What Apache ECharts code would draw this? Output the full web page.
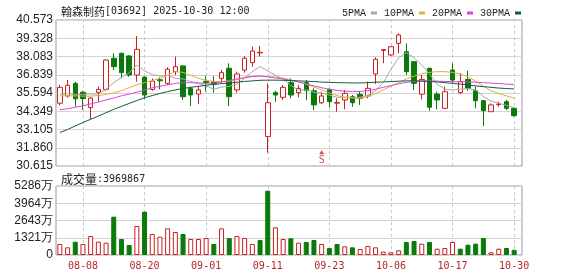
<!DOCTYPE html>
<html><head><meta charset="utf-8">
<script src="https://cdn.jsdelivr.net/npm/echarts@6/dist/echarts.min.js"></script>
<style>html,body{margin:0;padding:0;background:#fff}#c{width:578px;height:276px}</style>
</head><body><div id="c"></div>
<script>
const dates = ['08-05','08-06','08-07','08-08','08-11','08-12','08-13','08-14','08-15','08-18','08-19','08-20','08-21','08-22','08-25','08-26','08-27','08-28','08-29',
'09-01','09-02','09-03','09-04','09-05','09-08','09-09','09-10','09-11','09-12','09-15','09-16','09-17','09-18','09-19','09-22','09-23','09-24','09-25','09-26','09-29','09-30',
'10-02','10-03','10-06','10-08','10-09','10-10','10-13','10-14','10-15','10-16','10-17','10-20','10-21','10-22','10-23','10-24','10-27','10-28','10-30'];
const openP  = [34.90,35.39,36.25,35.64,34.61,35.64,35.84,37.96,38.30,38.12,36.82,36.68,35.84,36.50,36.25,37.05,37.44,35.91,35.52,36.39,36.37,36.59,37.28,35.80,37.16,37.66,38.33,32.62,35.62,35.30,36.30,35.62,36.30,35.75,34.93,35.84,34.90,35.12,35.34,35.50,35.39,36.89,38.50,38.19,38.98,38.41,37.73,35.52,37.28,35.52,34.55,37.16,35.62,36.52,35.75,35.07,34.32,34.80,35.00,34.55];
const closeP = [35.98,36.12,35.20,35.22,35.25,35.84,37.84,37.39,36.98,36.82,38.57,35.46,36.41,36.43,37.21,37.39,35.34,35.46,35.80,36.30,36.21,36.98,35.34,36.89,37.96,38.46,38.37,34.93,35.46,35.98,35.46,35.91,35.75,34.78,35.39,35.00,34.95,35.57,34.93,35.23,35.91,37.89,38.55,38.75,39.55,37.05,36.25,36.52,34.62,35.12,35.68,36.48,36.37,35.91,35.07,34.39,34.78,34.84,34.55,34.05];
const lowP   = [34.75,35.28,34.66,34.43,33.80,35.00,35.75,37.16,36.59,36.70,36.37,35.19,35.75,35.84,36.14,36.82,35.12,34.71,34.84,35.70,35.62,36.25,34.71,35.62,36.98,37.39,38.07,31.52,35.00,35.12,35.23,35.30,35.12,34.43,34.84,34.61,34.32,34.48,34.66,34.78,35.23,36.21,37.62,38.12,38.30,36.82,35.80,35.16,34.39,34.48,34.50,36.25,35.52,35.75,34.55,33.34,34.32,34.66,34.43,33.98];
const highP  = [36.15,36.48,36.37,35.75,35.30,36.02,37.89,38.30,38.35,38.17,39.48,36.71,36.59,36.66,37.35,38.07,37.50,36.03,36.03,36.75,36.75,37.16,37.62,37.05,38.12,38.75,38.80,36.25,35.75,36.14,36.60,36.14,36.48,35.91,35.68,35.91,35.23,35.80,35.46,35.68,36.37,38.03,38.57,38.80,39.66,38.98,37.75,36.82,37.30,35.68,36.03,37.62,36.94,37.11,36.03,35.12,34.89,35.00,35.12,34.62];
const volumeWan = [843,587,1021,843,1455,1021,945,2936,1225,766,2221,3319,1608,1404,2042,1762,1608,1225,1225,1302,843,2042,1302,1455,1302,843,1149,4928,2119,1225,1277,945,996,1149,843,536,843,664,587,460,689,587,255,204,357,996,1072,868,996,485,536,996,485,791,868,1302,204,485,536,397];
const ma5  = [35.50,35.55,35.50,35.50,35.52,35.53,35.85,36.30,36.66,36.97,37.50,37.10,36.85,36.75,36.80,36.60,36.55,36.38,36.25,36.08,35.85,36.00,36.05,36.20,36.60,37.05,37.40,37.10,36.80,36.55,36.10,35.80,35.80,35.65,35.60,35.45,35.30,35.30,35.30,35.30,35.45,35.75,36.30,37.20,38.00,38.35,38.00,37.50,36.90,36.20,35.85,35.80,35.85,35.90,35.80,35.35,35.05,34.90,34.75,34.60];
const ma10 = [35.40,35.40,35.40,35.38,35.38,35.42,35.50,35.60,35.75,35.95,36.15,36.30,36.45,36.60,36.80,37.05,37.00,36.80,36.60,36.45,36.38,36.37,36.40,36.50,36.62,36.72,36.75,36.70,36.68,36.60,36.50,36.35,36.20,36.00,35.80,35.60,35.42,35.30,35.25,35.25,35.35,35.55,35.80,36.05,36.30,36.55,36.75,36.90,37.00,37.05,37.05,37.00,36.90,36.70,36.40,36.05,35.75,35.55,35.40,35.25];
const ma20 = [34.45,34.52,34.62,34.72,34.85,34.98,35.12,35.25,35.40,35.52,35.65,35.80,35.95,36.05,36.15,36.25,36.30,36.30,36.28,36.25,36.27,36.35,36.45,36.55,36.65,36.72,36.75,36.70,36.62,36.55,36.45,36.35,36.22,36.08,35.95,35.85,35.77,35.72,35.70,35.70,35.75,35.85,35.98,36.10,36.22,36.32,36.38,36.42,36.42,36.40,36.38,36.37,36.36,36.35,36.33,36.30,36.27,36.24,36.20,36.18];
const ma30 = [32.90,33.10,33.35,33.58,33.80,34.02,34.25,34.48,34.68,34.88,35.08,35.27,35.42,35.56,35.69,35.80,35.90,35.98,36.05,36.12,36.18,36.23,36.28,36.33,36.38,36.42,36.46,36.47,36.47,36.46,36.44,36.42,36.40,36.37,36.34,36.32,36.30,36.29,36.28,36.28,36.30,36.33,36.35,36.37,36.40,36.42,36.42,36.40,36.38,36.35,36.30,36.25,36.20,36.14,36.08,36.03,35.98,35.93,35.90,35.87];
const priceTicks = ['30.615','31.860','33.105','34.349','35.594','36.839','38.083','39.328','40.573'];
const volumeTicks = ['0','1321万','2643万','3964万','5286万'];
const labeledDates = ['08-08','08-20','09-01','09-11','09-23','10-06','10-17','10-30'];
const signalDates = ['09-22'];
const signalPrices = [31.55];
const signalText = ['S'];

const RED = '#cc1f1f', GREEN = '#0a7a0a';
const priceMin = 30.615, priceMax = 40.573, volMax = 5286;

const candleData = dates.map((d, i) => [openP[i], closeP[i], lowP[i], highP[i]]);
const volData = volumeWan.map((v, i) => {
  const up = i === 0 || closeP[i] >= closeP[i - 1];
  return { value: v, itemStyle: { color: up ? '#fff' : GREEN, borderColor: up ? RED : GREEN, borderWidth: 1 } };
});
const vlines = labeledDates.map(d => ({ xAxis: d }));
const markLineOpt = () => ({ symbol: 'none', silent: true, z: 1, label: { show: false }, animation: false,
  lineStyle: { type: [3, 3], color: '#c8c8c8', width: 1 }, data: vlines });

const chart = echarts.init(document.getElementById('c'), null, { renderer: 'canvas' });
chart.setOption({
  animation: false,
  backgroundColor: '#fff',
  title: [
    { left: 56, top: 1, text: '{a|翰森制药}{b|[03692] 2025-10-30 12:00}',
      textStyle: { fontWeight: 'normal', rich: {
        a: { fontFamily: 'Noto Sans CJK SC', fontSize: 11, color: '#222', fontWeight: 'normal' },
        b: { fontFamily: 'DejaVu Sans Mono', fontSize: 10, color: '#222', fontWeight: 'normal' } } } },
    { left: 56, top: 168, text: '{a|成交量}{b|:3969867}',
      textStyle: { fontWeight: 'normal', rich: {
        a: { fontFamily: 'Noto Sans CJK SC', fontSize: 12, color: '#222', fontWeight: 'normal' },
        b: { fontFamily: 'DejaVu Sans Mono', fontSize: 10, color: '#222', fontWeight: 'normal' } } } }
  ],
  legend: {
    left: 337, top: 3, data: ['5PMA', '10PMA', '20PMA', '30PMA'], align: 'right',
    icon: 'rect', itemWidth: 6, itemHeight: 3, itemGap: 7,
    textStyle: { fontFamily: 'Liberation Mono', fontSize: 10, color: '#222', fontWeight: 'normal' }
  },
  grid: [
    { left: 56, top: 20, width: 462, height: 146 },
    { left: 56, top: 186, width: 462, height: 69 },
    { left: 56, top: 20, width: 466, height: 146, show: true, borderColor: '#999', borderWidth: 1 },
    { left: 56, top: 186, width: 466, height: 69, show: true, borderColor: '#999', borderWidth: 1 }
  ],
  xAxis: [
    { type: 'category', gridIndex: 0, data: dates, boundaryGap: true,
      axisLine: { show: false }, axisTick: { show: false }, axisLabel: { show: false }, splitLine: { show: false } },
    { type: 'category', gridIndex: 1, data: dates, boundaryGap: true,
      axisLine: { show: false }, axisTick: { show: false }, splitLine: { show: false },
      axisLabel: { interval: (idx, val) => labeledDates.indexOf(val) >= 0, color: '#b32828',
        fontFamily: 'DejaVu Sans Mono', fontSize: 10, margin: 6 } },
    { type: 'value', gridIndex: 2, min: 0, max: 1, show: false },
    { type: 'value', gridIndex: 3, min: 0, max: 1, show: false }
  ],
  yAxis: [
    { type: 'value', gridIndex: 0, min: priceMin, max: priceMax, show: false, splitLine: { show: false } },
    { type: 'value', gridIndex: 1, min: 0, max: volMax, show: false, splitLine: { show: false } },
    { type: 'value', gridIndex: 2, min: 0, max: 8, interval: 1,
      axisLine: { show: false }, axisTick: { show: false },
      splitLine: { lineStyle: { color: '#d4d4d4' } },
      axisLabel: { formatter: v => priceTicks[Math.round(v)], margin: 3,
        fontFamily: 'Liberation Sans', fontSize: 12, color: '#222' } },
    { type: 'value', gridIndex: 3, min: 0, max: 4, interval: 1,
      axisLine: { show: false }, axisTick: { show: false },
      splitLine: { lineStyle: { color: '#d4d4d4' } },
      axisLabel: { formatter: v => volumeTicks[Math.round(v)], margin: 3,
        fontFamily: 'Liberation Sans', fontSize: 12, color: '#222' } }
  ],
  series: [
    { type: 'line', xAxisIndex: 0, yAxisIndex: 0, data: [], z: 1, markLine: markLineOpt() },
    { type: 'line', xAxisIndex: 1, yAxisIndex: 1, data: [], z: 1, markLine: markLineOpt() },
    { type: 'candlestick', xAxisIndex: 0, yAxisIndex: 0, data: candleData, barWidth: 5, z: 3,
      itemStyle: { color: '#fff', color0: GREEN, borderColor: RED, borderColor0: GREEN, borderWidth: 1 } },
    { name: '5PMA', type: 'line', xAxisIndex: 0, yAxisIndex: 0, data: ma5, symbol: 'none', z: 4, color: '#a8a8a8', lineStyle: { width: 1 } },
    { name: '10PMA', type: 'line', xAxisIndex: 0, yAxisIndex: 0, data: ma10, symbol: 'none', z: 4, color: '#e0b040', lineStyle: { width: 1 } },
    { name: '20PMA', type: 'line', xAxisIndex: 0, yAxisIndex: 0, data: ma20, symbol: 'none', z: 4, color: '#dd44dd', lineStyle: { width: 1 } },
    { name: '30PMA', type: 'line', xAxisIndex: 0, yAxisIndex: 0, data: ma30, symbol: 'none', z: 4, color: '#0f5e3a', lineStyle: { width: 1 } },
    { type: 'scatter', xAxisIndex: 0, yAxisIndex: 0, symbol: 'triangle', symbolSize: [5, 4], color: RED, z: 4,
      data: signalDates.map((d, i) => [d, signalPrices[i]]),
      label: { show: true, position: 'bottom', distance: 1, formatter: p => signalText[p.dataIndex],
        color: RED, fontFamily: 'DejaVu Sans Mono', fontSize: 10 } },
    { type: 'bar', xAxisIndex: 1, yAxisIndex: 1, data: volData, barWidth: 5, z: 3 }
  ]
});
</script>
</body></html>
